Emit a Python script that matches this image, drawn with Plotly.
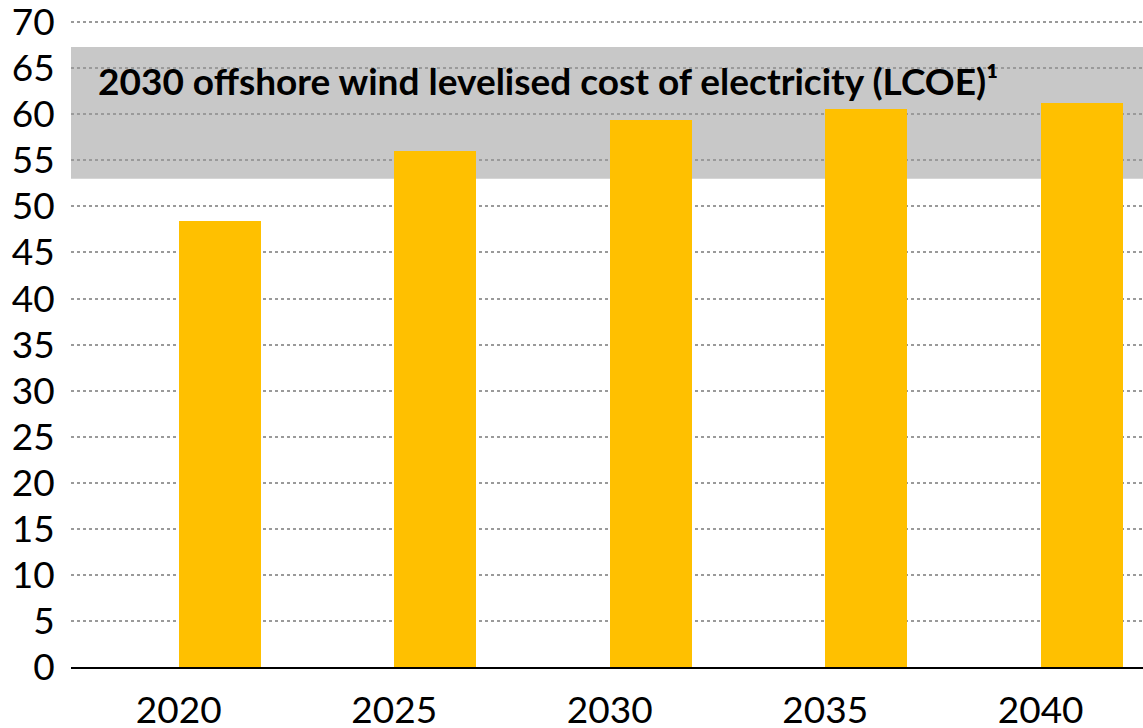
import plotly.graph_objects as go

# Offshore wind cost outlook by year
years = ["2020", "2025", "2030", "2035", "2040"]
values = [48.4, 56.0, 59.4, 60.6, 61.2]

# 2030 offshore wind LCOE range (shaded band)
lcoe_low = 53.0
lcoe_high = 67.3
band_label = "2030 offshore wind levelised cost of electricity (LCOE)¹"

y_ticks = list(range(0, 75, 5))

fig = go.Figure()
fig.add_trace(go.Bar(
    x=years,
    y=values,
    marker=dict(color="#ffc000", line=dict(width=0)),
    width=0.38,
    offset=0,
))

fig.add_shape(
    type="rect", xref="paper", yref="y",
    x0=0, x1=1, y0=lcoe_low, y1=lcoe_high,
    fillcolor="#c8c8c8", line=dict(width=0), layer="below",
)

fig.add_annotation(
    xref="paper", yref="y", x=0.023, y=63.7,
    xanchor="left", yanchor="middle",
    text=band_label, showarrow=False,
    font=dict(family="Lato", size=37, color="#000000", weight="bold"),
)

fig.update_layout(
    width=1143, height=728,
    margin=dict(l=71, r=0, t=13, b=61),
    paper_bgcolor="white", plot_bgcolor="white",
    showlegend=False,
    font=dict(family="Lato", size=37, color="#000000"),
    bargap=0,
)
fig.update_xaxes(
    range=[-0.5, 4.475],
    showgrid=False, automargin=False,
    showline=True, linecolor="#000000", linewidth=1.5,
    ticks="outside", ticklen=10, tickcolor="rgba(0,0,0,0)",
    tickfont=dict(size=37), ticklabeloverflow="allow",
)
fig.update_yaxes(
    range=[0, 71],
    tickvals=y_ticks,
    showgrid=True, gridcolor="#9a9a9a", gridwidth=1.5, griddash="dot",
    zeroline=False, automargin=False,
    ticks="outside", ticklen=8, tickcolor="rgba(0,0,0,0)",
    tickfont=dict(size=37), ticklabeloverflow="allow",
)

fig.write_html("out.html")
